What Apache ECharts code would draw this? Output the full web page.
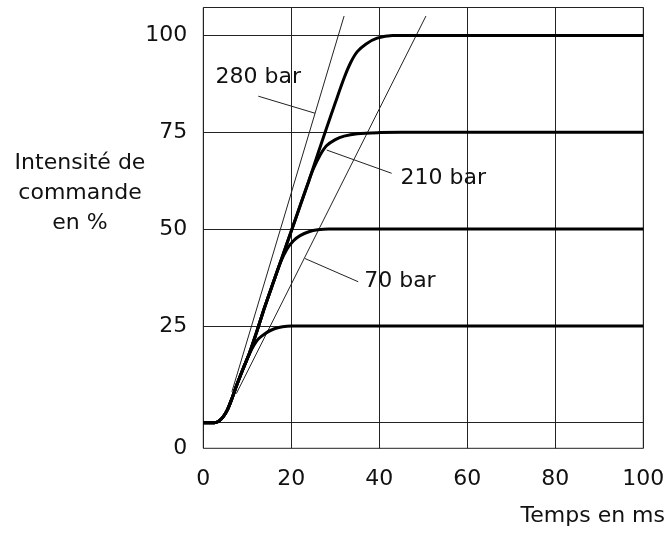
<!DOCTYPE html>
<html>
<head>
<meta charset="utf-8">
<script src="https://cdn.jsdelivr.net/npm/echarts@6/dist/echarts.min.js"></script>
<style>
html,body{margin:0;padding:0;background:#fff;}
#chart{width:671px;height:535px;}
</style>
</head>
<body>
<div id="chart"></div>
<script>
// ---- data ----
const xTickValues = [0, 20, 40, 60, 80, 100];
const yTickValues = [0, 25, 50, 75, 100];
const yTickLabels = ['0', '25', '50', '75', '100'];
const xAxisTitle = 'Temps en ms';
const yAxisTitle = 'Intensité de\ncommande\nen %';

const curve25 = [[0,0],[2.5,0],[3.5,0.4],[4.5,1.5],[5.5,3.4],[6.5,6.2],[7.5,9.4],[9,13.8],[10.5,17.8],[11.5,20],[12.5,21.6],[14,23],[16,24.2],[18,24.8],[20,25],[24,25],[100,25]];
const curve50 = [[0,0],[2.5,0],[3.5,0.4],[4.5,1.5],[5.5,3.4],[6.5,6.2],[7.5,9.4],[9,13.8],[10.5,18],[12,23],[14,30],[16,36.5],[17.5,41.3],[19,44.8],[20.5,47],[22,48.3],[24,49.3],[26,49.8],[28.5,50],[33,50],[100,50]];
const curve75 = [[0,0],[2.5,0],[3.5,0.4],[4.5,1.5],[5.5,3.4],[6.5,6.2],[7.5,9.4],[9,13.8],[10.5,18],[12,23],[14,30],[16,36.5],[18,43],[20,49.5],[22,56],[24,62.5],[25,65.5],[26.5,69],[28,71.5],[30,73.1],[32,74],[35,74.6],[40,74.9],[45,75],[50,75],[100,75]];
const curve100 = [[0,0],[2.5,0],[3.5,0.4],[4.5,1.5],[5.5,3.4],[6.5,6.2],[7.5,9.4],[9,13.8],[10.5,18],[12,23],[14,30],[16,36.5],[18,43],[20,49.5],[22,56],[24,62.5],[26,69.3],[28,76],[30,82.6],[32,89],[33.5,93],[35,95.8],[37,97.8],[39.5,99.3],[43,100],[48,100],[100,100]];

const tangent280 = [[6.5,8],[32,105]];
const tangent70 = [[7.5,7.5],[50.6,105]];

const leader280 = [[25.4,79.9],[12.5,84.3]];
const leader210 = [[28.05,70.4],[42.8,64.4]];
const leader70 = [[23.1,42.4],[35.2,36.4]];
const leaderTexts = ['280 bar', '210 bar', '70 bar'];

// ---- layout ----
const Y_MIN = -6.6, Y_MAX = 107.2;
const FONT = 'DejaVu Sans';
const TXT = '#111';

const chart = echarts.init(document.getElementById('chart'), null, {renderer:'canvas'});

function curveSeries(data){
  return {type:'line', data:data, showSymbol:false, smooth:0.3,
    lineStyle:{color:'#000', width:3}, z:5, silent:true};
}
function thinSeries(data, w){
  return {type:'line', data:data, showSymbol:false, lineStyle:{color:'#222', width:w}, z:3, silent:true};
}
function leaderSeries(data, text, labelCfg){
  const d = data.map(p => ({value:p}));
  d[1].label = Object.assign({show:true, formatter:text, fontFamily:FONT, fontSize:22, color:TXT}, labelCfg);
  return {type:'line', data:d, showSymbol:true, symbol:'circle', symbolSize:2,
    itemStyle:{color:'rgba(0,0,0,0)', borderWidth:0},
    lineStyle:{color:'#222', width:1}, z:4, silent:true};
}

const option = {
  animation:false,
  backgroundColor:'#fff',
  title:[
    {text:yAxisTitle, left:80, top:148, textAlign:'center', padding:0,
     textStyle:{fontFamily:FONT, fontSize:22, fontWeight:'normal', color:TXT, lineHeight:30}},
    {text:xAxisTitle, right:6, top:503, padding:0,
     textStyle:{fontFamily:FONT, fontSize:22, fontWeight:'normal', color:TXT, lineHeight:26}}
  ],
  grid:{left:203.3, right:27.7, top:7.5, bottom:86.7, show:true, borderColor:'#222', borderWidth:1, containLabel:false, outerBoundsMode:'none'},
  xAxis:{type:'value', min:xTickValues[0], max:xTickValues[xTickValues.length-1], interval:20,
    axisLine:{show:false}, axisTick:{show:false},
    axisLabel:{fontFamily:FONT, fontSize:22, color:TXT, margin:20},
    splitLine:{show:true, lineStyle:{color:'#222', width:1}}},
  yAxis:{type:'value', min:Y_MIN, max:Y_MAX,
    axisLine:{show:false}, axisTick:{show:false, customValues:yTickValues},
    axisLabel:{fontFamily:FONT, fontSize:22, color:TXT, margin:16,
      customValues:[Y_MIN].concat(yTickValues.slice(1)),
      formatter:function(v){ const i = yTickValues.indexOf(v); return v <= Y_MIN + 1e-6 ? yTickLabels[0] : (i >= 0 ? yTickLabels[i] : ''); }},
    splitLine:{show:true, lineStyle:{color:'#222', width:1}}},
  series:[
    thinSeries(tangent280, 1),
    thinSeries(tangent70, 1),
    curveSeries(curve25),
    curveSeries(curve50),
    curveSeries(curve75),
    curveSeries(curve100),
    leaderSeries(leader280, leaderTexts[0], {position:'top', distance:7}),
    leaderSeries(leader210, leaderTexts[1], {position:'right', distance:8, offset:[0,5]}),
    leaderSeries(leader70, leaderTexts[2], {position:'right', distance:5})
  ]
};
chart.setOption(option);
</script>
</body>
</html>
